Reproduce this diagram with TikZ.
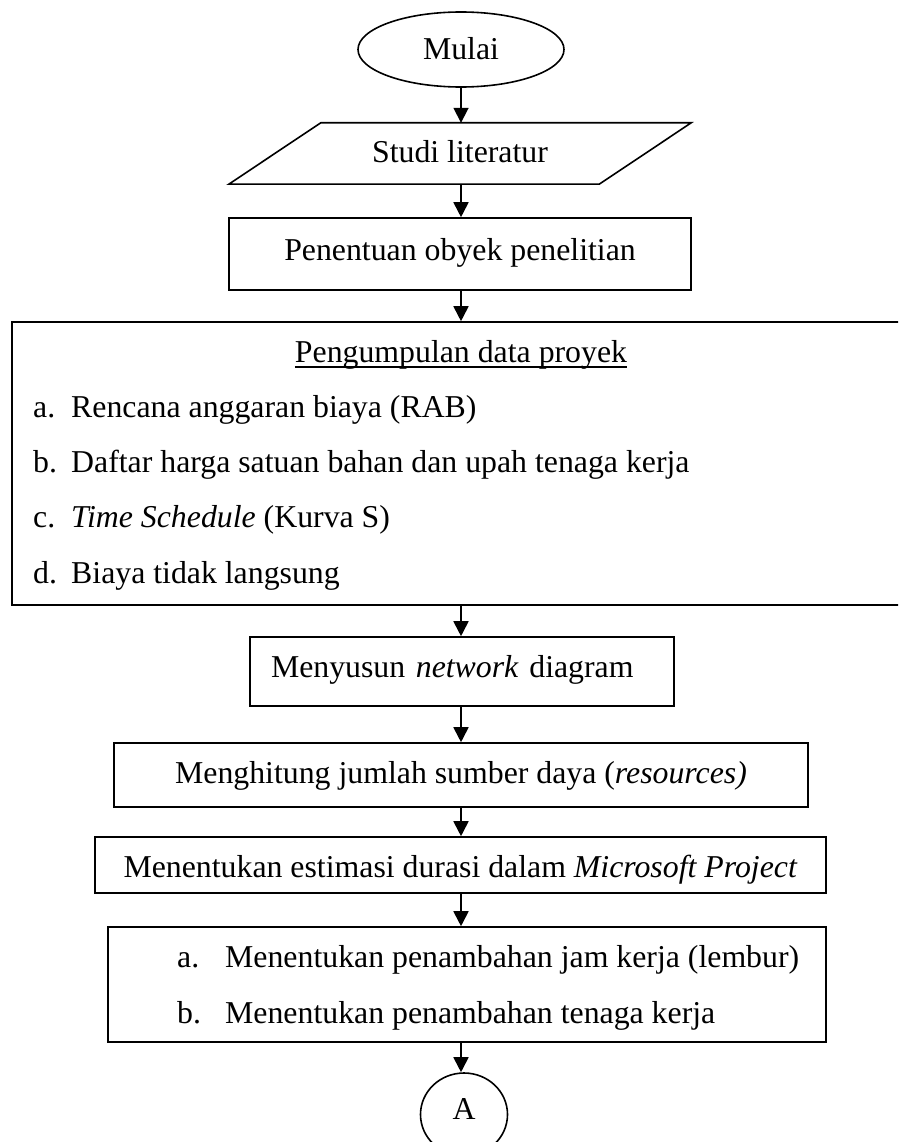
\documentclass[tikz,border=0pt]{standalone}
\usepackage{fontspec}
\setmainfont{Liberation Serif}
\usetikzlibrary{arrows.meta,shapes.geometric}
\newcommand\fz{\fontsize{31.8}{38}\selectfont}
\begin{document}
\begin{tikzpicture}[x=1pt,y=-1pt,
  bx/.style={draw, line width=1.6pt, inner sep=0pt, font=\fz, text depth=0pt},
  txt/.style={inner sep=0pt, font=\fz, anchor=base west},
  arr/.style={line width=1.8pt, -{Triangle[length=15pt,width=15pt]}}]
\useasboundingbox (0,0) rectangle (898,1142);
\clip (0,0) rectangle (898,1142);
\coordinate (sp) at (461,0);

\node[bx, ellipse, minimum width=206pt, minimum height=75pt, text height=20pt] (mulai) at (461,49.5) {Mulai};

\node[inner sep=0pt, font=\fz, minimum width=370pt, minimum height=61pt, text height=19pt, text depth=0pt] (studi) at (460,153.5) {Studi literatur};
\draw[line width=1.6pt] ([xshift=-46pt]studi.south west) -- ([xshift=-46pt]studi.south east) -- ([xshift=46pt]studi.north east) -- ([xshift=46pt]studi.north west) -- cycle;

\node[bx, minimum width=462pt, minimum height=72pt, text height=12pt] (obyek) at (460,254) {Penentuan obyek penelitian};

\node[bx, minimum width=898pt, minimum height=283pt] (data) at (461,463.5) {};
\node[txt, anchor=base] (judul) at (461,362) {Pengumpulan data proyek};
\draw[line width=1.5pt] ([yshift=-5pt]judul.base west) -- ([yshift=-5pt]judul.base east);
\node[txt] (ia) at (33,417) {a.};
\node[txt] (ja) at (71,417) {Rencana anggaran biaya (RAB)};
\node[txt] (ib) at (33,472) {b.};
\node[txt] (jb) at (71,472) {Daftar harga satuan bahan dan upah tenaga kerja};
\node[txt] (ic) at (33,527.5) {c.};
\node[txt] (jc) at (71,527.5) {\textit{Time Schedule} (Kurva S)};
\node[txt] (id) at (33,583) {d.};
\node[txt] (jd) at (71,583) {Biaya tidak langsung};

\node[bx, align=left, text width=382pt, inner xsep=21pt, minimum height=69pt, text height=11pt] (susun) at (462,671.5) {Menyusun \textit{network} diagram};

\node[bx, minimum width=694pt, minimum height=64pt, text height=16pt] (hitung) at (461,775) {Menghitung jumlah sumber daya (\textit{resources)}};

\node[bx, minimum width=731pt, minimum height=56pt, text height=24pt] (durasi) at (460.5,865) {Menentukan estimasi durasi dalam \textit{Microsoft Project}};

\node[bx, minimum width=718pt, minimum height=115pt] (tambah) at (467,984.5) {};
\node[txt] (ka) at (177,967) {a.};
\node[txt] (ma) at (225,967) {Menentukan penambahan jam kerja (lembur)};
\node[txt] (kb) at (177,1023) {b.};
\node[txt] (mb) at (225,1023) {Menentukan penambahan tenaga kerja};

\node[bx, ellipse, minimum width=87pt, minimum height=83pt, text height=10pt] (A) at (464,1114.5) {A};

\draw[arr] (mulai.south -| sp) -- (studi.north -| sp);
\draw[arr] (studi.south -| sp) -- (obyek.north -| sp);
\draw[arr] (obyek.south -| sp) -- (data.north -| sp);
\draw[arr] (data.south -| sp) -- (susun.north -| sp);
\draw[arr] (susun.south -| sp) -- (hitung.north -| sp);
\draw[arr] (hitung.south -| sp) -- (durasi.north -| sp);
\draw[arr] (durasi.south -| sp) -- (tambah.north -| sp);
\draw[arr] (tambah.south -| sp) -- (A.north -| sp);
\end{tikzpicture}
\end{document}
